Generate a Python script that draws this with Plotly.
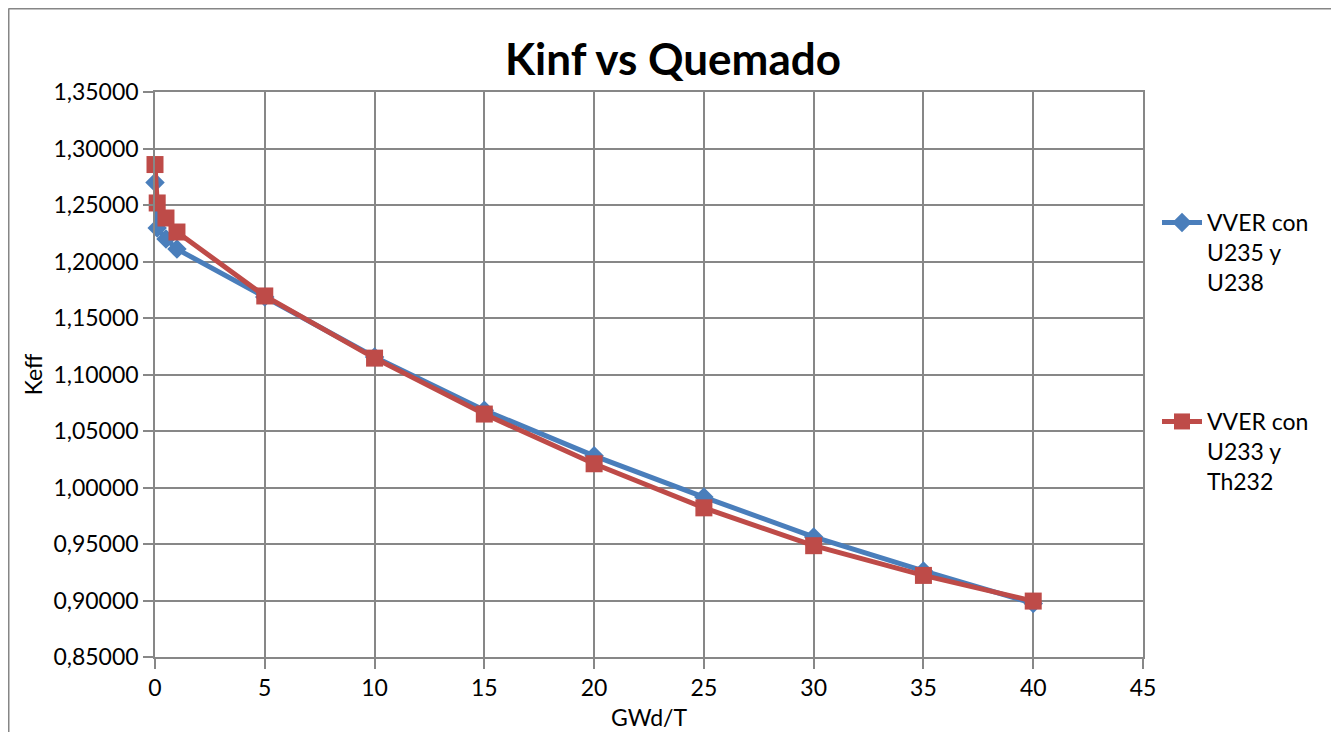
import plotly.graph_objects as go

burnup = [0, 0.1, 0.5, 1, 5, 10, 15, 20, 25, 30, 35, 40]
k_u235_u238 = [1.2699, 1.2296, 1.2200, 1.2110, 1.1686, 1.1155, 1.0684, 1.0280, 0.9915, 0.9563, 0.9262, 0.8974]
k_u233_th232 = [1.2858, 1.2518, 1.2385, 1.2261, 1.1695, 1.1145, 1.0650, 1.0210, 0.9820, 0.9485, 0.9222, 0.8995]

series_names = ["VVER con<br>U235 y<br>U238", "VVER con<br>U233 y<br>Th232"]
x_ticks = [0, 5, 10, 15, 20, 25, 30, 35, 40, 45]
y_ticks = [0.85, 0.90, 0.95, 1.00, 1.05, 1.10, 1.15, 1.20, 1.25, 1.30, 1.35]

BLUE = "#4A7EBB"
RED = "#BE4B48"
GRID = "#878787"
FONT = "Lato"

fig = go.Figure()
fig.add_trace(go.Scatter(
    x=burnup, y=k_u235_u238, name=series_names[0], mode="lines+markers",
    line=dict(color=BLUE, width=5), marker=dict(symbol="diamond", size=15, color=BLUE),
    cliponaxis=False, legend="legend"))
fig.add_trace(go.Scatter(
    x=burnup, y=k_u233_th232, name=series_names[1], mode="lines+markers",
    line=dict(color=RED, width=5), marker=dict(symbol="square", size=17, color=RED),
    cliponaxis=False, legend="legend2"))

# the page body has an 8px margin, so screen coords = figure coords + 8
OFF = 8
SW, SH = 1339, 732
W, H = SW - OFF, SH - OFF
L = 155 - OFF
T = 92 - OFF
R = SW - 1143
B = SH - 657
pw, ph = W - L - R, H - T - B

def px_x(p):
    return (p - OFF - L) / pw

def px_y(p):
    return (H - B - (p - OFF)) / ph

axis_common = dict(
    showgrid=True, gridcolor=GRID, gridwidth=1.5,
    showline=True, linecolor=GRID, linewidth=1.5, mirror=True,
    ticks="outside", ticklen=10, tickcolor=GRID, tickwidth=1.5,
    zeroline=False, tickfont=dict(family=FONT, size=23, color="#000000"),
)

legend_common = dict(xanchor="left", yanchor="top", font=dict(family=FONT, size=23),
                     valign="top", bgcolor="rgba(0,0,0,0)", itemwidth=40)

border = dict(color="#868686", width=2)

fig.update_layout(
    width=W, height=H,
    showlegend=True,
    margin=dict(l=L, r=R, t=T, b=B, autoexpand=False),
    paper_bgcolor="white", plot_bgcolor="white",
    separators=",.",
    font=dict(family=FONT, color="#000000"),
    title=dict(text="<b>Kinf vs Quemado</b>", x=(673 - OFF) / W, xanchor="center",
               y=1 - (60 - OFF) / H, yanchor="middle",
               font=dict(family=FONT, size=44, color="#000000")),
    xaxis=dict(range=[0, 45], tickvals=x_ticks, ticktext=[str(v) for v in x_ticks],
               title=dict(text="GWd/T", font=dict(family=FONT, size=23), standoff=10),
               **axis_common),
    yaxis=dict(range=[0.85, 1.35], tickvals=y_ticks, tickformat=".5f",
               title=dict(text="Keff", font=dict(family=FONT, size=23), standoff=4),
               **axis_common),
    legend=dict(x=px_x(1157), y=px_y(201), **legend_common),
    legend2=dict(x=px_x(1157), y=px_y(400), **legend_common),
    shapes=[
        dict(type="line", xref="paper", yref="paper",
             x0=px_x(8.5), x1=px_x(8.5), y0=px_y(SH), y1=px_y(8.5),
             line=border, layer="below"),
        dict(type="line", xref="paper", yref="paper",
             x0=px_x(8.5), x1=px_x(SW), y0=px_y(8.5), y1=px_y(8.5),
             line=border, layer="below"),
    ],
)

fig.write_html("out.html")
